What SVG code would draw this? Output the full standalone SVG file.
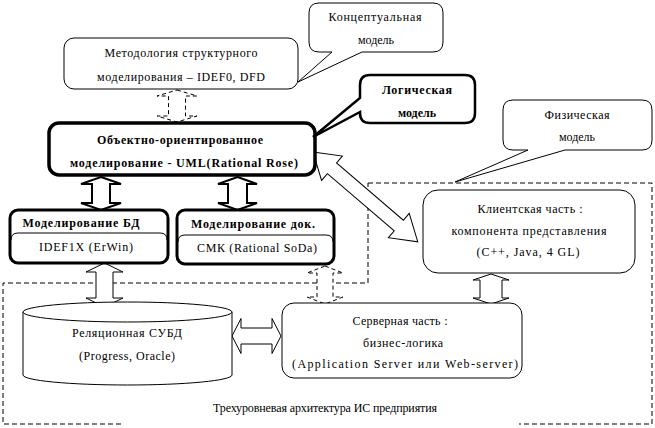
<svg xmlns="http://www.w3.org/2000/svg" width="655" height="428" viewBox="0 0 655 428">
<style>
text{font-family:"Liberation Serif","DejaVu Serif","Noto Serif",serif;font-size:12px;fill:#000;text-anchor:middle}
.b{font-weight:bold}
.thin{fill:#fff;stroke:#000;stroke-width:1}
.thick{fill:#fff;stroke:#000;stroke-width:3}
.dash{fill:none;stroke:#000;stroke-width:1;stroke-dasharray:5,3}
.arr{fill:#fff;stroke:#000;stroke-width:1}
.arr2{fill:#fff;stroke:#000;stroke-width:2}
.arrd{fill:#fff;stroke:#000;stroke-width:1;stroke-dasharray:4,3}
</style>
<rect width="655" height="428" fill="#fff"/>
<g id="boundary">
<path class="dash" d="M368,183 H652 V424 H519 M121,424 H3 V283 H368 V183"/>
<text x="325" y="412" textLength="224" lengthAdjust="spacing">Трехуровневая архитектура ИС предприятия</text>
</g>
<g id="connectors">
<polygon class="arrd" points="177,90 197,96 185.5,96 185.5,116 197,116 177,122 157,116 168.5,116 168.5,96 157,96"/>
<polygon class="arr2" points="101,177 121,184 110,184 110,203 121,203 101,210 81,203 92,203 92,184 81,184"/>
<polygon class="arr2" points="237.5,177 257,184 247,184 247,203 257,203 237.5,210 218,203 228,203 228,184 218,184"/>
<polygon class="arr" points="104.5,263 123,272 113,272 113,298 123,298 104.5,307 86,298 96,298 96,272 86,272"/>
<polygon class="arrd" points="325,266 343,273 333,273 333,297 343,297 325,304 307,297 317,297 317,273 307,273"/>
<polygon class="arr" points="491,274 509,280 502,280 502,298 509,298 491,304 473,298 480,298 480,280 473,280"/>
<polygon class="arr" points="232,336 241,318.5 241,328 272,328 272,318.5 281,336 272,353.5 272,344 241,344 241,353.5"/>
<polygon class="arr" transform="translate(313,152) rotate(40.6)" points="0,0 25,-16 25,-7 113,-7 113,-16 138,0 113,16 113,7 25,7 25,16"/>
</g>
<g id="method">
<rect class="thin" x="64" y="38" width="234" height="51" rx="10"/>
<text x="181" y="57" textLength="153" lengthAdjust="spacing">Методология структурного</text>
<text x="181" y="81" textLength="168" lengthAdjust="spacing">моделирования – IDEF0, DFD</text>
</g>
<g id="concept-callout">
<path class="thin" d="M319,3 H433 Q443,3 443,13 V42 Q443,52 433,52 H362 L298,82 L332,52 H319 Q309,52 309,42 V13 Q309,3 319,3 Z"/>
<text x="375" y="21" textLength="93" lengthAdjust="spacing">Концептуальная</text>
<text x="376" y="44">модель</text>
</g>
<g id="uml">
<rect x="49" y="123" width="266" height="52" rx="10" fill="#fff" stroke="#000" stroke-width="3.5"/>
<text class="b" x="180" y="144" textLength="166" lengthAdjust="spacing">Объектно-ориентированное</text>
<text class="b" x="184" y="167" textLength="228" lengthAdjust="spacing">моделирование  - UML(Rational Rose)</text>
</g>
<g id="logic-callout">
<path d="M370,75 H465 Q475,75 475,85 V113 Q475,123 465,123 H370 Q360,123 360,113 V112 L313,137 L360,98 V85 Q360,75 370,75 Z" fill="#fff" stroke="#000" stroke-width="2.5"/>
<text class="b" x="417" y="94" textLength="70" lengthAdjust="spacing">Логическая</text>
<text class="b" x="417" y="117">модель</text>
</g>
<g id="phys-callout">
<path class="thin" d="M513,100 H642 Q652,100 652,110 V140 Q652,150 642,150 H565 L455,182 L528,150 H513 Q503,150 503,140 V110 Q503,100 513,100 Z"/>
<text x="577" y="119" textLength="65" lengthAdjust="spacing">Физическая</text>
<text x="577" y="141">модель</text>
</g>
<g id="db-model">
<rect class="thick" x="10" y="210" width="158" height="53" rx="8"/>
<path d="M11,240 Q11,233 18,233 H160 Q167,233 167,240" fill="none" stroke="#000" stroke-width="1"/>
<text class="b" x="81" y="227" textLength="117" lengthAdjust="spacing">Моделирование БД</text>
<text x="86" y="251" textLength="94" lengthAdjust="spacing">IDEF1X (ErWin)</text>
</g>
<g id="doc-model">
<rect class="thick" x="177" y="210" width="157" height="54" rx="8"/>
<path d="M178,242 Q178,235 185,235 H326 Q333,235 333,242" fill="none" stroke="#000" stroke-width="1"/>
<text class="b" x="253" y="228" textLength="124" lengthAdjust="spacing">Моделирование док.</text>
<text x="257" y="252" textLength="120" lengthAdjust="spacing">СМК (Rational SoDa)</text>
</g>
<g id="rdbms">
<path class="thin" d="M23,312 V375 A104.5,10 0 0 0 232,375 V312"/>
<ellipse class="thin" cx="127.5" cy="312" rx="104.5" ry="10"/>
<text x="127" y="337" textLength="110" lengthAdjust="spacing">Реляционная СУБД</text>
<text x="127" y="360" textLength="96" lengthAdjust="spacing">(Progress, Oracle)</text>
</g>
<g id="server">
<rect class="thin" x="282" y="303" width="240" height="75" rx="12"/>
<text x="400" y="325" textLength="95" lengthAdjust="spacing">Серверная часть :</text>
<text x="403" y="347" textLength="80" lengthAdjust="spacing">бизнес-логика</text>
<text x="405" y="368" textLength="226" lengthAdjust="spacing">(Application Server или Web-server)</text>
</g>
<g id="client">
<rect class="thin" x="423" y="190" width="212" height="83" rx="15"/>
<text x="530" y="213" textLength="105" lengthAdjust="spacing">Клиентская часть :</text>
<text x="529" y="235" textLength="155" lengthAdjust="spacing">компонента представления</text>
<text x="528" y="256" textLength="103" lengthAdjust="spacing">(C++, Java, 4 GL)</text>
</g>
</svg>
